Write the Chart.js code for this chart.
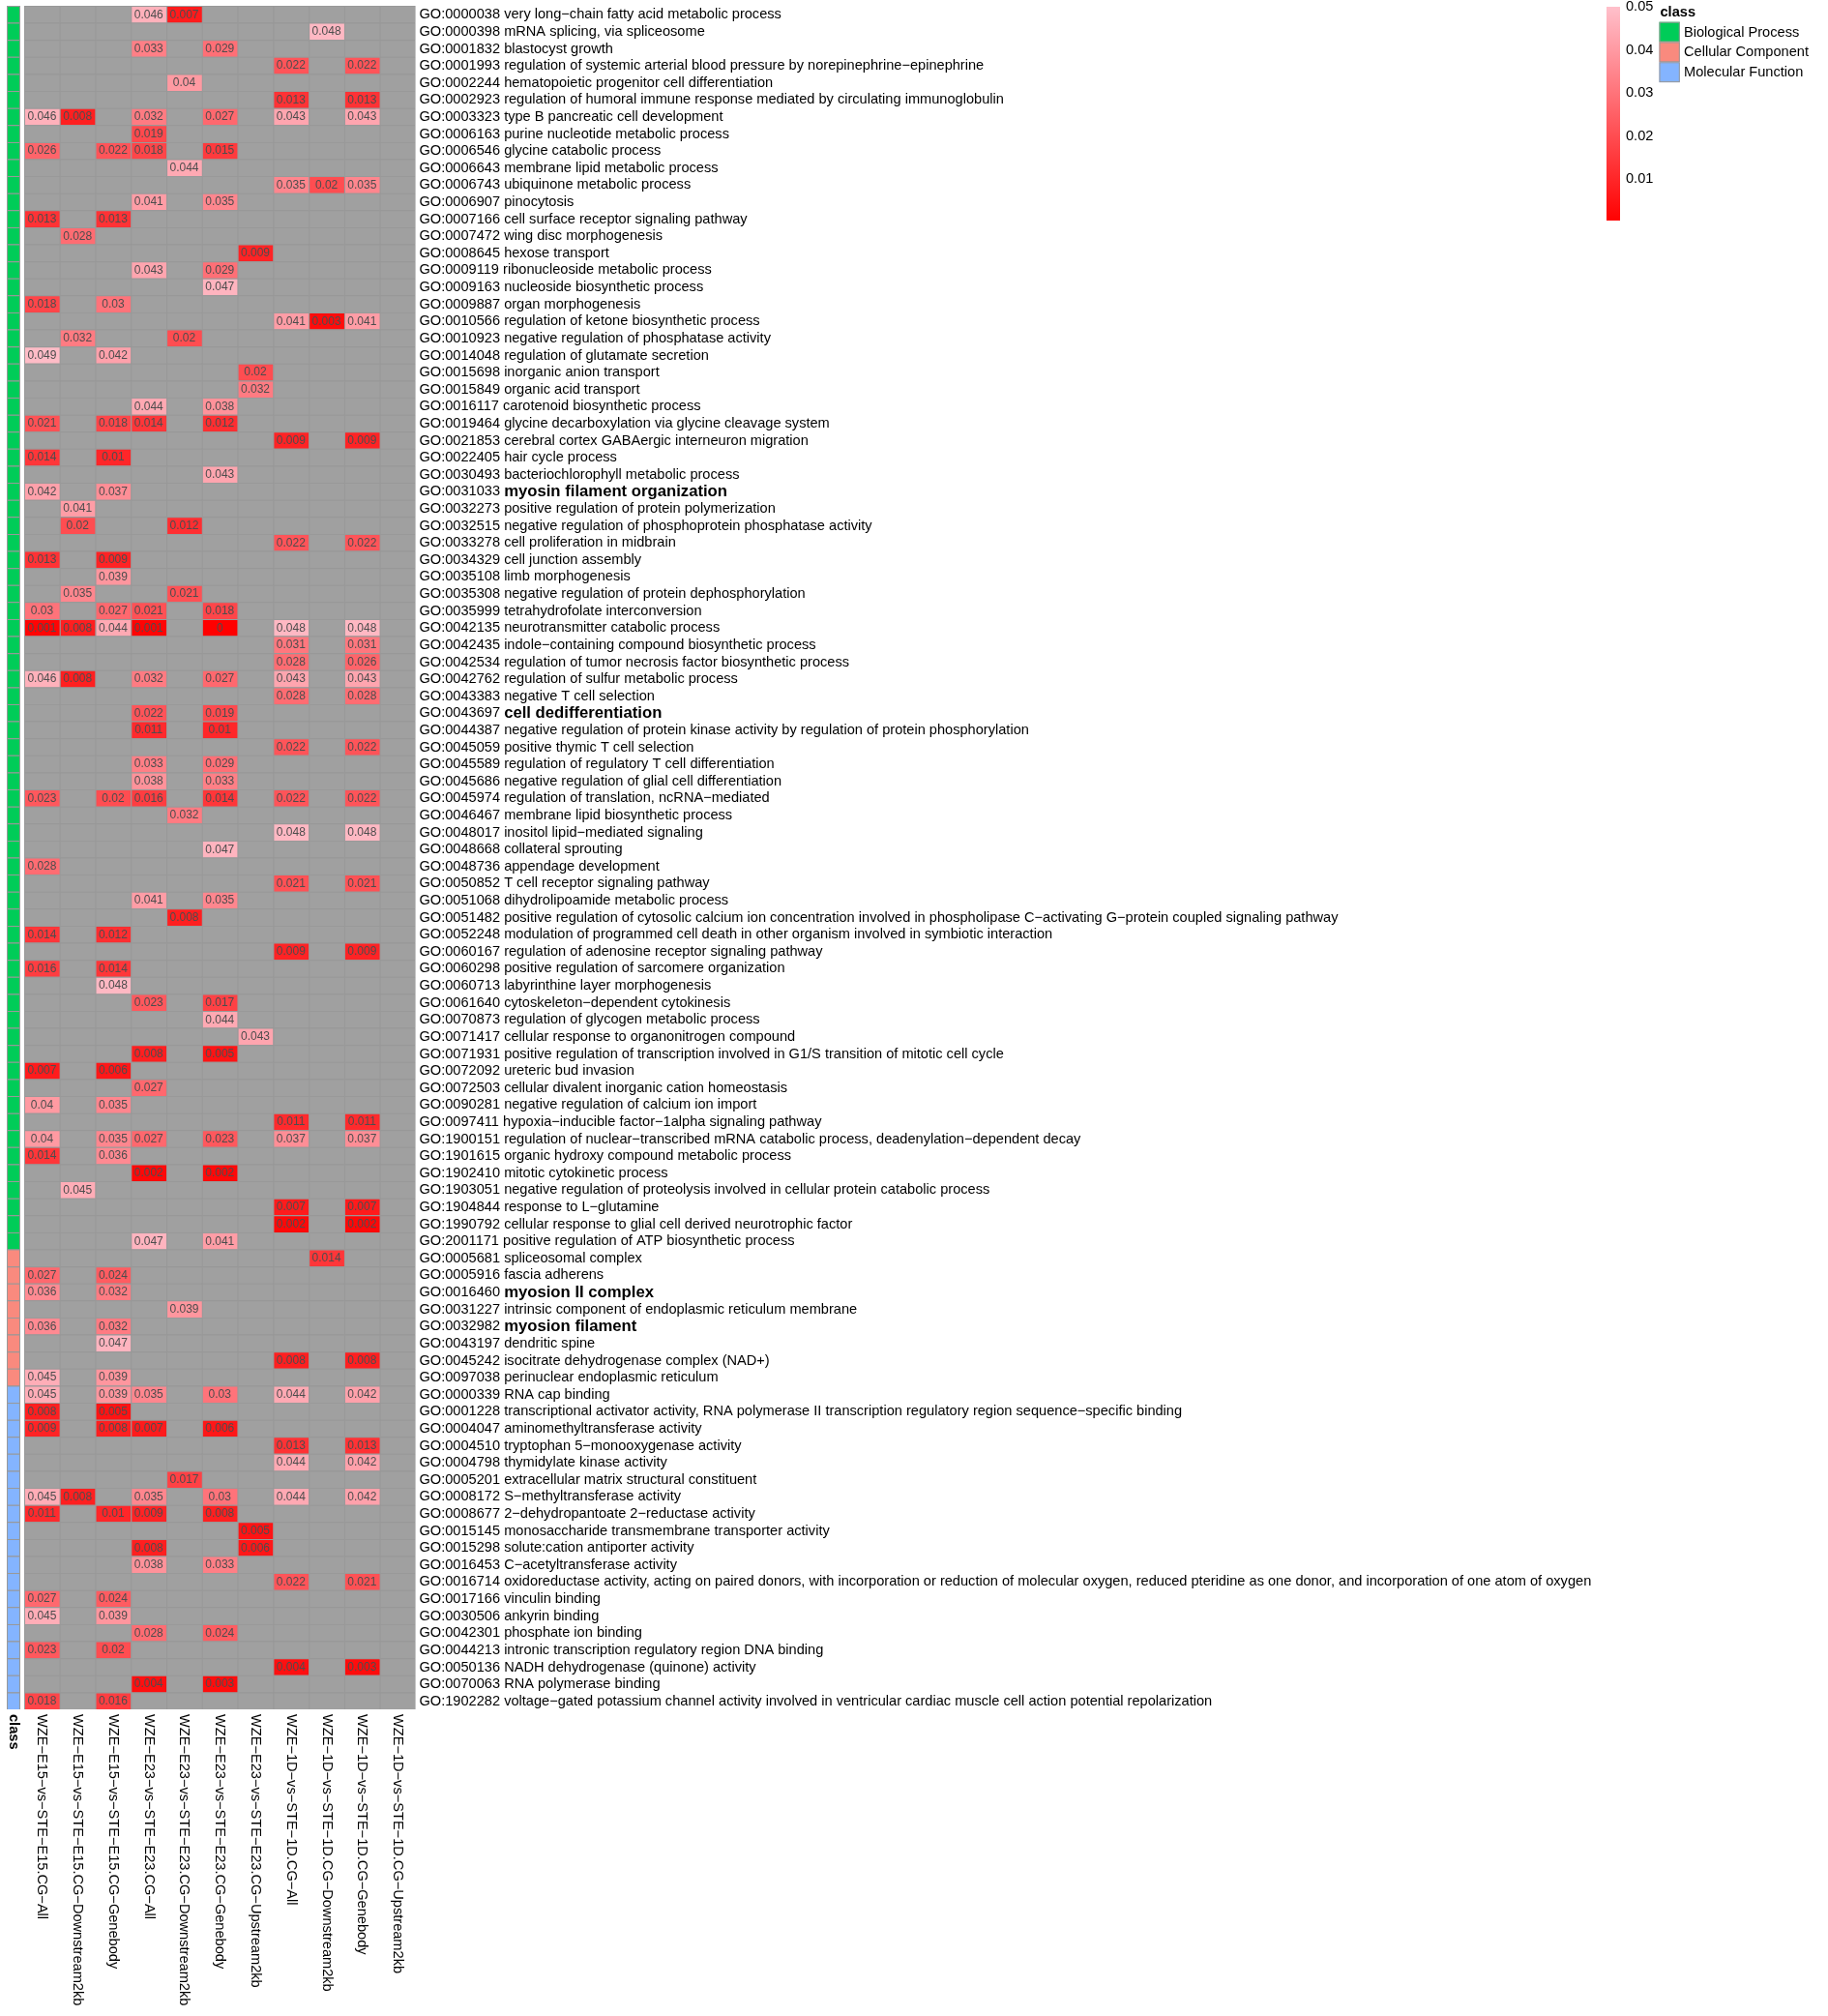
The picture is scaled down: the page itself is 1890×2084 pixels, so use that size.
<!DOCTYPE html>
<html><head><meta charset="utf-8">
<script src="https://cdn.jsdelivr.net/npm/chart.js@4/dist/chart.umd.min.js"></script>
<style>html,body{margin:0;padding:0;background:#fff}#wrap{position:relative;width:1890px;height:2084px}</style>
</head><body><div id="wrap"><canvas id="c"></canvas></div>
<script>
const _ = null;

const columns = [
  'WZE-E15-vs-STE-E15.CG-All','WZE-E15-vs-STE-E15.CG-Downstream2kb','WZE-E15-vs-STE-E15.CG-Genebody',
  'WZE-E23-vs-STE-E23.CG-All','WZE-E23-vs-STE-E23.CG-Downstream2kb','WZE-E23-vs-STE-E23.CG-Genebody',
  'WZE-E23-vs-STE-E23.CG-Upstream2kb','WZE-1D-vs-STE-1D.CG-All','WZE-1D-vs-STE-1D.CG-Downstream2kb',
  'WZE-1D-vs-STE-1D.CG-Genebody','WZE-1D-vs-STE-1D.CG-Upstream2kb'
];

const goIds = [
 'GO:0000038','GO:0000398','GO:0001832','GO:0001993','GO:0002244','GO:0002923','GO:0003323','GO:0006163','GO:0006546','GO:0006643',
 'GO:0006743','GO:0006907','GO:0007166','GO:0007472','GO:0008645','GO:0009119','GO:0009163','GO:0009887','GO:0010566','GO:0010923',
 'GO:0014048','GO:0015698','GO:0015849','GO:0016117','GO:0019464','GO:0021853','GO:0022405','GO:0030493','GO:0031033','GO:0032273',
 'GO:0032515','GO:0033278','GO:0034329','GO:0035108','GO:0035308','GO:0035999','GO:0042135','GO:0042435','GO:0042534','GO:0042762',
 'GO:0043383','GO:0043697','GO:0044387','GO:0045059','GO:0045589','GO:0045686','GO:0045974','GO:0046467','GO:0048017','GO:0048668',
 'GO:0048736','GO:0050852','GO:0051068','GO:0051482','GO:0052248','GO:0060167','GO:0060298','GO:0060713','GO:0061640','GO:0070873',
 'GO:0071417','GO:0071931','GO:0072092','GO:0072503','GO:0090281','GO:0097411','GO:1900151','GO:1901615','GO:1902410','GO:1903051',
 'GO:1904844','GO:1990792','GO:2001171','GO:0005681','GO:0005916','GO:0016460','GO:0031227','GO:0032982','GO:0043197','GO:0045242',
 'GO:0097038','GO:0000339','GO:0001228','GO:0004047','GO:0004510','GO:0004798','GO:0005201','GO:0008172','GO:0008677','GO:0015145',
 'GO:0015298','GO:0016453','GO:0016714','GO:0017166','GO:0030506','GO:0042301','GO:0044213','GO:0050136','GO:0070063','GO:1902282'
];

const goNames = [
 'very long-chain fatty acid metabolic process','mRNA splicing, via spliceosome','blastocyst growth',
 'regulation of systemic arterial blood pressure by norepinephrine-epinephrine','hematopoietic progenitor cell differentiation',
 'regulation of humoral immune response mediated by circulating immunoglobulin','type B pancreatic cell development',
 'purine nucleotide metabolic process','glycine catabolic process','membrane lipid metabolic process',
 'ubiquinone metabolic process','pinocytosis','cell surface receptor signaling pathway','wing disc morphogenesis','hexose transport',
 'ribonucleoside metabolic process','nucleoside biosynthetic process','organ morphogenesis','regulation of ketone biosynthetic process',
 'negative regulation of phosphatase activity',
 'regulation of glutamate secretion','inorganic anion transport','organic acid transport','carotenoid biosynthetic process',
 'glycine decarboxylation via glycine cleavage system','cerebral cortex GABAergic interneuron migration','hair cycle process',
 'bacteriochlorophyll metabolic process','myosin filament organization','positive regulation of protein polymerization',
 'negative regulation of phosphoprotein phosphatase activity','cell proliferation in midbrain','cell junction assembly',
 'limb morphogenesis','negative regulation of protein dephosphorylation','tetrahydrofolate interconversion',
 'neurotransmitter catabolic process','indole-containing compound biosynthetic process',
 'regulation of tumor necrosis factor biosynthetic process','regulation of sulfur metabolic process',
 'negative T cell selection','cell dedifferentiation',
 'negative regulation of protein kinase activity by regulation of protein phosphorylation','positive thymic T cell selection',
 'regulation of regulatory T cell differentiation','negative regulation of glial cell differentiation',
 'regulation of translation, ncRNA-mediated','membrane lipid biosynthetic process','inositol lipid-mediated signaling',
 'collateral sprouting',
 'appendage development','T cell receptor signaling pathway','dihydrolipoamide metabolic process',
 'positive regulation of cytosolic calcium ion concentration involved in phospholipase C-activating G-protein coupled signaling pathway',
 'modulation of programmed cell death in other organism involved in symbiotic interaction',
 'regulation of adenosine receptor signaling pathway','positive regulation of sarcomere organization',
 'labyrinthine layer morphogenesis','cytoskeleton-dependent cytokinesis','regulation of glycogen metabolic process',
 'cellular response to organonitrogen compound',
 'positive regulation of transcription involved in G1/S transition of mitotic cell cycle','ureteric bud invasion',
 'cellular divalent inorganic cation homeostasis','negative regulation of calcium ion import',
 'hypoxia-inducible factor-1alpha signaling pathway',
 'regulation of nuclear-transcribed mRNA catabolic process, deadenylation-dependent decay',
 'organic hydroxy compound metabolic process','mitotic cytokinetic process',
 'negative regulation of proteolysis involved in cellular protein catabolic process',
 'response to L-glutamine','cellular response to glial cell derived neurotrophic factor',
 'positive regulation of ATP biosynthetic process','spliceosomal complex','fascia adherens','myosion II complex',
 'intrinsic component of endoplasmic reticulum membrane','myosion filament','dendritic spine',
 'isocitrate dehydrogenase complex (NAD+)',
 'perinuclear endoplasmic reticulum','RNA cap binding',
 'transcriptional activator activity, RNA polymerase II transcription regulatory region sequence-specific binding',
 'aminomethyltransferase activity','tryptophan 5-monooxygenase activity','thymidylate kinase activity',
 'extracellular matrix structural constituent','S-methyltransferase activity','2-dehydropantoate 2-reductase activity',
 'monosaccharide transmembrane transporter activity',
 'solute:cation antiporter activity','C-acetyltransferase activity',
 'oxidoreductase activity, acting on paired donors, with incorporation or reduction of molecular oxygen, reduced pteridine as one donor, and incorporation of one atom of oxygen',
 'vinculin binding','ankyrin binding','phosphate ion binding','intronic transcription regulatory region DNA binding',
 'NADH dehydrogenase (quinone) activity','RNA polymerase binding',
 'voltage-gated potassium channel activity involved in ventricular cardiac muscle cell action potential repolarization'
];

const goClass = [
 'BP','BP','BP','BP','BP','BP','BP','BP','BP','BP',
 'BP','BP','BP','BP','BP','BP','BP','BP','BP','BP',
 'BP','BP','BP','BP','BP','BP','BP','BP','BP','BP',
 'BP','BP','BP','BP','BP','BP','BP','BP','BP','BP',
 'BP','BP','BP','BP','BP','BP','BP','BP','BP','BP',
 'BP','BP','BP','BP','BP','BP','BP','BP','BP','BP',
 'BP','BP','BP','BP','BP','BP','BP','BP','BP','BP',
 'BP','BP','BP','CC','CC','CC','CC','CC','CC','CC',
 'CC','MF','MF','MF','MF','MF','MF','MF','MF','MF',
 'MF','MF','MF','MF','MF','MF','MF','MF','MF','MF'
];

// terms whose names are emphasised (bold) in the figure
const emphasised = ['GO:0031033','GO:0043697','GO:0016460','GO:0032982'];

// p-values per column (rows in goIds order), null = not significant
const e15All = [
 _,_,_,_,_,_,0.046,_,0.026,_,  _,_,0.013,_,_,_,_,0.018,_,_,
 0.049,_,_,_,0.021,_,0.014,_,0.042,_,  _,_,0.013,_,_,0.03,0.001,_,_,0.046,
 _,_,_,_,_,_,0.023,_,_,_,  0.028,_,_,_,0.014,_,0.016,_,_,_,
 _,_,0.007,_,0.04,_,0.04,0.014,_,_,  _,_,_,_,0.027,0.036,_,0.036,_,_,
 0.045,0.045,0.008,0.009,_,_,_,0.045,0.011,_,  _,_,_,0.027,0.045,_,0.023,_,_,0.018];
const e15Down = [
 _,_,_,_,_,_,0.008,_,_,_,  _,_,_,0.028,_,_,_,_,_,0.032,
 _,_,_,_,_,_,_,_,_,0.041,  0.02,_,_,_,0.035,_,0.008,_,_,0.008,
 _,_,_,_,_,_,_,_,_,_,  _,_,_,_,_,_,_,_,_,_,
 _,_,_,_,_,_,_,_,_,0.045,  _,_,_,_,_,_,_,_,_,_,
 _,_,_,_,_,_,_,0.008,_,_,  _,_,_,_,_,_,_,_,_,_];
const e15Gene = [
 _,_,_,_,_,_,_,_,0.022,_,  _,_,0.013,_,_,_,_,0.03,_,_,
 0.042,_,_,_,0.018,_,0.01,_,0.037,_,  _,_,0.009,0.039,_,0.027,0.044,_,_,_,
 _,_,_,_,_,_,0.02,_,_,_,  _,_,_,_,0.012,_,0.014,0.048,_,_,
 _,_,0.006,_,0.035,_,0.035,0.036,_,_,  _,_,_,_,0.024,0.032,_,0.032,0.047,_,
 0.039,0.039,0.005,0.008,_,_,_,_,0.01,_,  _,_,_,0.024,0.039,_,0.02,_,_,0.016];
const e23All = [
 0.046,_,0.033,_,_,_,0.032,0.019,0.018,_,  _,0.041,_,_,_,0.043,_,_,_,_,
 _,_,_,0.044,0.014,_,_,_,_,_,  _,_,_,_,_,0.021,0.001,_,_,0.032,
 _,0.022,0.011,_,0.033,0.038,0.016,_,_,_,  _,_,0.041,_,_,_,_,_,0.023,_,
 _,0.008,_,0.027,_,_,0.027,_,0.002,_,  _,_,0.047,_,_,_,_,_,_,_,
 _,0.035,_,0.007,_,_,_,0.035,0.009,_,  0.008,0.038,_,_,_,0.028,_,_,0.004,_];
const e23Down = [
 0.007,_,_,_,0.04,_,_,_,_,0.044,  _,_,_,_,_,_,_,_,_,0.02,
 _,_,_,_,_,_,_,_,_,_,  0.012,_,_,_,0.021,_,_,_,_,_,
 _,_,_,_,_,_,_,0.032,_,_,  _,_,_,0.008,_,_,_,_,_,_,
 _,_,_,_,_,_,_,_,_,_,  _,_,_,_,_,_,0.039,_,_,_,
 _,_,_,_,_,_,0.017,_,_,_,  _,_,_,_,_,_,_,_,_,_];
const e23Gene = [
 _,_,0.029,_,_,_,0.027,_,0.015,_,  _,0.035,_,_,_,0.029,0.047,_,_,_,
 _,_,_,0.038,0.012,_,_,0.043,_,_,  _,_,_,_,_,0.018,0,_,_,0.027,
 _,0.019,0.01,_,0.029,0.033,0.014,_,_,0.047,  _,_,0.035,_,_,_,_,_,0.017,0.044,
 _,0.005,_,_,_,_,0.023,_,0.002,_,  _,_,0.041,_,_,_,_,_,_,_,
 _,0.03,_,0.006,_,_,_,0.03,0.008,_,  _,0.033,_,_,_,0.024,_,_,0.003,_];
const e23Up = [
 _,_,_,_,_,_,_,_,_,_,  _,_,_,_,0.009,_,_,_,_,_,
 _,0.02,0.032,_,_,_,_,_,_,_,  _,_,_,_,_,_,_,_,_,_,
 _,_,_,_,_,_,_,_,_,_,  _,_,_,_,_,_,_,_,_,_,
 0.043,_,_,_,_,_,_,_,_,_,  _,_,_,_,_,_,_,_,_,_,
 _,_,_,_,_,_,_,_,_,0.005,  0.006,_,_,_,_,_,_,_,_,_];
const d1All = [
 _,_,_,0.022,_,0.013,0.043,_,_,_,  0.035,_,_,_,_,_,_,_,0.041,_,
 _,_,_,_,_,0.009,_,_,_,_,  _,0.022,_,_,_,_,0.048,0.031,0.028,0.043,
 0.028,_,_,0.022,_,_,0.022,_,0.048,_,  _,0.021,_,_,_,0.009,_,_,_,_,
 _,_,_,_,_,0.011,0.037,_,_,_,  0.007,0.002,_,_,_,_,_,_,_,0.008,
 _,0.044,_,_,0.013,0.044,_,0.044,_,_,  _,_,0.022,_,_,_,_,0.004,_,_];
const d1Down = [
 _,0.048,_,_,_,_,_,_,_,_,  0.02,_,_,_,_,_,_,_,0.003,_,
 _,_,_,_,_,_,_,_,_,_,  _,_,_,_,_,_,_,_,_,_,
 _,_,_,_,_,_,_,_,_,_,  _,_,_,_,_,_,_,_,_,_,
 _,_,_,_,_,_,_,_,_,_,  _,_,_,0.014,_,_,_,_,_,_,
 _,_,_,_,_,_,_,_,_,_,  _,_,_,_,_,_,_,_,_,_];
const d1Gene = [
 _,_,_,0.022,_,0.013,0.043,_,_,_,  0.035,_,_,_,_,_,_,_,0.041,_,
 _,_,_,_,_,0.009,_,_,_,_,  _,0.022,_,_,_,_,0.048,0.031,0.026,0.043,
 0.028,_,_,0.022,_,_,0.022,_,0.048,_,  _,0.021,_,_,_,0.009,_,_,_,_,
 _,_,_,_,_,0.011,0.037,_,_,_,  0.007,0.002,_,_,_,_,_,_,_,0.008,
 _,0.042,_,_,0.013,0.042,_,0.042,_,_,  _,_,0.021,_,_,_,_,0.003,_,_];
const d1Up = [
 _,_,_,_,_,_,_,_,_,_,  _,_,_,_,_,_,_,_,_,_,
 _,_,_,_,_,_,_,_,_,_,  _,_,_,_,_,_,_,_,_,_,
 _,_,_,_,_,_,_,_,_,_,  _,_,_,_,_,_,_,_,_,_,
 _,_,_,_,_,_,_,_,_,_,  _,_,_,_,_,_,_,_,_,_,
 _,_,_,_,_,_,_,_,_,_,  _,_,_,_,_,_,_,_,_,_];

const columnValues = [e15All,e15Down,e15Gene,e23All,e23Down,e23Gene,e23Up,d1All,d1Down,d1Gene,d1Up];

const classKeys = ['BP','CC','MF'];
const classNames = ['Biological Process','Cellular Component','Molecular Function'];
const classColors = ['#00CC58','#F98A7E','#84B4FF'];
const legendTicks = [0.01,0.02,0.03,0.04,0.05];
const scaleMax = 0.05;

const NA_COLOR = '#A0A0A0';
const GRID = '#999999';
const FONT = '"Liberation Sans", Arial, Helvetica, sans-serif';
const minus = s => s.replace(/-/g, '\u2212');
const CLASS_L = -0.49, CLASS_R = -0.109;

function cellColor(v){
  const t = Math.max(0, Math.min(1, v / scaleMax));
  return 'rgb(255,' + Math.round(192*t) + ',' + Math.round(203*t) + ')';
}

const datasets = columnValues.map((vals, c) => ({
  label: columns[c],
  data: goIds.map(() => [c, c + 1]),
  backgroundColor: vals.map(v => v == null ? NA_COLOR : cellColor(v)),
  borderColor: GRID,
  borderWidth: {top: 1, left: 1, right: 0, bottom: 0},
  borderSkipped: false,
  inflateAmount: 0,
  barPercentage: 1, categoryPercentage: 1, grouped: false
}));
datasets.push({
  label: 'class',
  data: goIds.map(() => [CLASS_L, CLASS_R]),
  backgroundColor: goClass.map(k => classColors[classKeys.indexOf(k)]),
  borderColor: GRID,
  borderWidth: {top: 1, left: 1, right: 1, bottom: 0},
  borderSkipped: false,
  inflateAmount: 0,
  barPercentage: 1, categoryPercentage: 1, grouped: false
});

const decor = {
  id: 'decor',
  beforeDraw(chart){
    const ctx = chart.ctx;
    ctx.save(); ctx.fillStyle = '#fff'; ctx.fillRect(0, 0, chart.width, chart.height); ctx.restore();
  },
  beforeDatasetsDraw(chart){
    const ctx = chart.ctx, xs = chart.scales.x, ys = chart.scales.y;
    ctx.save();
    ctx.fillStyle = GRID;
    const x0 = xs.getPixelForValue(0);
    ctx.fillRect(x0, ys.top, xs.right - x0, ys.bottom - ys.top);
    const c0 = xs.getPixelForValue(CLASS_L), c1 = xs.getPixelForValue(CLASS_R);
    ctx.fillRect(c0, ys.top, c1 - c0, ys.bottom - ys.top);
    ctx.restore();
  },
  afterDatasetsDraw(chart){
    const ctx = chart.ctx, xs = chart.scales.x, ys = chart.scales.y;
    ctx.save();
    // cell numbers
    ctx.font = '12px ' + FONT; ctx.fillStyle = '#4D4D4D';
    ctx.textAlign = 'center'; ctx.textBaseline = 'middle';
    columnValues.forEach((vals, c) => {
      vals.forEach((v, i) => {
        if (v == null) return;
        ctx.fillText(String(v), xs.getPixelForValue(c + 0.5), ys.getPixelForValue(i) + 0.5);
      });
    });
    // row labels
    ctx.textAlign = 'left'; ctx.fillStyle = '#000';
    const lx = xs.right + 4;
    goIds.forEach((id, i) => {
      const y = ys.getPixelForValue(i) + 0.5;
      ctx.font = '14.6px ' + FONT;
      const idTxt = id + ' ';
      ctx.fillText(idTxt, lx, y);
      const w = ctx.measureText(idTxt).width;
      if (emphasised.includes(id)) ctx.font = 'bold 16.7px ' + FONT;
      ctx.fillText(minus(goNames[i]), lx + w, y);
    });
    // column labels
    const top = ys.bottom + 5;
    ctx.textBaseline = 'middle';
    columns.forEach((name, c) => {
      ctx.save();
      ctx.translate(xs.getPixelForValue(c + 0.5), top);
      ctx.rotate(Math.PI / 2);
      ctx.font = '14.6px ' + FONT;
      ctx.fillText(minus(name), 0, 0);
      ctx.restore();
    });
    ctx.save();
    ctx.translate(xs.getPixelForValue((CLASS_L + CLASS_R) / 2), top);
    ctx.rotate(Math.PI / 2);
    ctx.font = 'bold 14.6px ' + FONT;
    ctx.fillText('class', 0, 0);
    ctx.restore();

    // colour bar legend
    const bx = 1661, bw = 14, yTop = 7, yZero = 229.5, bBottom = 228;
    const pv = v => yZero - (v / scaleMax) * (yZero - yTop);
    const g = ctx.createLinearGradient(0, yTop, 0, yZero);
    g.addColorStop(0, cellColor(scaleMax)); g.addColorStop(1, cellColor(0));
    ctx.fillStyle = g; ctx.fillRect(bx, yTop, bw, bBottom - yTop);
    ctx.fillStyle = '#000'; ctx.font = '14.6px ' + FONT; ctx.textAlign = 'left';
    legendTicks.forEach(v => ctx.fillText(String(v), 1681, pv(v)));

    // class legend
    ctx.font = 'bold 14.6px ' + FONT;
    ctx.fillText('class', 1716.5, 12.7);
    const sx = 1715.5, sw = 21.3, sh = 20.8, sy0 = 22.7;
    classNames.forEach((n, k) => {
      const sy = sy0 + k * sh;
      ctx.fillStyle = classColors[k]; ctx.fillRect(sx, sy, sw, sh);
      ctx.strokeStyle = GRID; ctx.lineWidth = 1; ctx.strokeRect(sx + 0.5, sy + 0.5, sw - 1, sh - 1);
      ctx.fillStyle = '#000'; ctx.font = '14.6px ' + FONT;
      ctx.fillText(n, 1741, sy + sh / 2 + 0.5);
    });
    ctx.restore();
  }
};

new Chart(document.getElementById('c'), {
  type: 'bar',
  data: { labels: goIds, datasets },
  options: {
    indexAxis: 'y',
    responsive: true, maintainAspectRatio: false, animation: false,
    devicePixelRatio: 1,
    layout: { padding: { left: 7, top: 6, right: 1460.5, bottom: 317 } },
    scales: {
      x: { type: 'linear', min: CLASS_L, max: 11, display: false },
      y: { type: 'category', display: false, offset: true }
    },
    plugins: { legend: { display: false }, tooltip: { enabled: false } },
    events: []
  },
  plugins: [decor]
});
</script></body></html>
